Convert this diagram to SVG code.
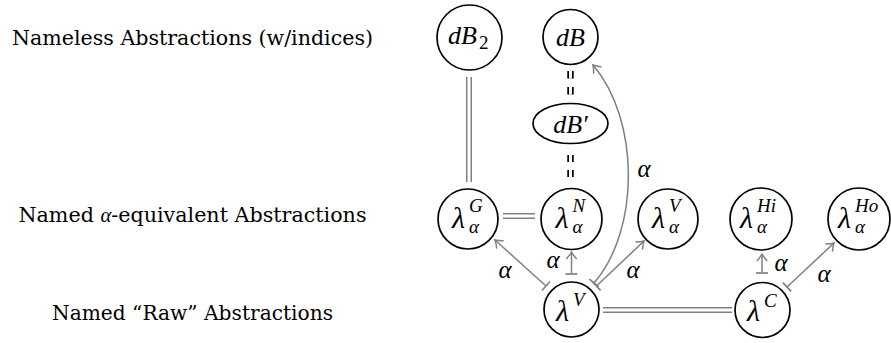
<svg xmlns="http://www.w3.org/2000/svg" width="891" height="343" viewBox="0 0 891 343">
<defs>
<style>
.node{fill:#fff;stroke:#000;stroke-width:1.7}
.lbl{font-family:"DejaVu Serif","Liberation Serif",serif;font-size:20px;fill:#000}
.m{font-family:"Liberation Serif","DejaVu Serif",serif;font-style:italic;font-size:26px;fill:#000}
.lam{font-family:"Liberation Serif","DejaVu Serif",serif;font-style:italic;font-size:30px;fill:#000}
.s{font-family:"Liberation Serif","DejaVu Serif",serif;font-style:italic;font-size:19px;fill:#000}
.up{font-style:normal}
.dbl-o{stroke:#808080;stroke-width:6;fill:none}
.dbl-i{stroke:#fff;stroke-width:3;fill:none}
.dsh-o{stroke:#000;stroke-width:6.4;fill:none}
.dsh-i{stroke:#fff;stroke-width:3;fill:none}
.arr{stroke:#808080;stroke-width:1.5;fill:none;marker-start:url(#bar);marker-end:url(#ah)}
.al{font-family:"Liberation Serif","DejaVu Serif",serif;font-style:italic;font-size:25px;fill:#000;text-anchor:middle}
</style>
<marker id="ah" markerUnits="userSpaceOnUse" markerWidth="14" markerHeight="14" refX="10" refY="7" orient="auto">
<path d="M3,1.8 Q7.5,5.8 10,7 Q7.5,8.2 3,12.2" fill="none" stroke="#808080" stroke-width="1.5"/>
</marker>
<marker id="bar" markerUnits="userSpaceOnUse" markerWidth="14" markerHeight="14" refX="2" refY="7" orient="auto">
<path d="M2,1 L2,13" fill="none" stroke="#808080" stroke-width="1.7"/>
</marker>
</defs>

<g id="row-labels">
<text class="lbl" x="192.5" y="45" text-anchor="middle" textLength="361" lengthAdjust="spacingAndGlyphs">Nameless Abstractions (w/indices)</text>
<text class="lbl" x="192.5" y="222" text-anchor="middle" textLength="348" lengthAdjust="spacingAndGlyphs">Named <tspan font-family="Liberation Serif" font-style="italic">α</tspan>-equivalent Abstractions</text>
<text class="lbl" x="192.5" y="320" text-anchor="middle" textLength="281" lengthAdjust="spacingAndGlyphs">Named “Raw” Abstractions</text>
</g>

<g id="connectors">
<line class="dbl-o" x1="469" y1="77" x2="469" y2="182"/>
<line class="dbl-i" x1="469" y1="76" x2="469" y2="183"/>
<line class="dbl-o" x1="503" y1="216" x2="535" y2="216"/>
<line class="dbl-i" x1="502" y1="216" x2="536" y2="216"/>
<line class="dbl-o" x1="603" y1="310" x2="732" y2="310"/>
<line class="dbl-i" x1="602" y1="310" x2="733" y2="310"/>
<line class="dsh-o" x1="570.5" y1="71" x2="570.5" y2="96" stroke-dasharray="7.5 8.5"/>
<line class="dsh-i" x1="570.5" y1="70" x2="570.5" y2="97" stroke-dasharray="0 1 7.5 8.5 7.5 20"/>
<line class="dsh-o" x1="570.5" y1="155" x2="570.5" y2="178" stroke-dasharray="7 8"/>
<line class="dsh-i" x1="570.5" y1="154" x2="570.5" y2="179" stroke-dasharray="0 1 7 8 7 20"/>
<line class="arr" x1="546" y1="286" x2="495" y2="240"/>
<line class="arr" x1="571.5" y1="274" x2="571.5" y2="252"/>
<path class="arr" d="M594,283 C640,230 640,120 593,65"/>
<line class="arr" x1="596.5" y1="286" x2="644" y2="241"/>
<line class="arr" x1="762" y1="273" x2="762" y2="254"/>
<line class="arr" x1="787" y1="287" x2="834" y2="243"/>
<text class="al" x="505" y="278">α</text>
<text class="al" x="553" y="268">α</text>
<text class="al" x="644" y="177">α</text>
<text class="al" x="633" y="278">α</text>
<text class="al" x="781" y="271">α</text>
<text class="al" x="824" y="282">α</text>
</g>

<g id="dB2">
<circle class="node" cx="469.5" cy="37.5" r="32.5"/>
<text class="m" x="448" y="44">dB</text>
<text class="s up" x="479" y="49">2</text>
</g>
<g id="dB">
<circle class="node" cx="570.5" cy="37" r="27.5"/>
<text class="m" x="570.5" y="45.5" text-anchor="middle">dB</text>
</g>
<g id="dBprime">
<ellipse class="node" cx="570.5" cy="123.5" rx="37.5" ry="20"/>
<text class="m" x="570.5" y="132.5" text-anchor="middle">dB′</text>
</g>
<g id="lamG">
<circle class="node" cx="468" cy="219" r="30"/>
<text class="lam" x="452" y="227.5">λ</text>
<text class="s" x="469" y="212">G</text>
<text class="s" x="469" y="233">α</text>
</g>
<g id="lamN">
<circle class="node" cx="571.5" cy="219" r="30.5"/>
<text class="lam" x="555.5" y="227.5">λ</text>
<text class="s" x="572.5" y="212">N</text>
<text class="s" x="572.5" y="233">α</text>
</g>
<g id="lamAV">
<circle class="node" cx="668" cy="219" r="30"/>
<text class="lam" x="652" y="227.5">λ</text>
<text class="s" x="669" y="212">V</text>
<text class="s" x="669" y="233">α</text>
</g>
<g id="lamHi">
<circle class="node" cx="761" cy="219" r="31"/>
<text class="lam" x="740" y="227.5">λ</text>
<text class="s" x="757" y="212">Hi</text>
<text class="s" x="757" y="233">α</text>
</g>
<g id="lamHo">
<circle class="node" cx="859" cy="219" r="31"/>
<text class="lam" x="838" y="227.5">λ</text>
<text class="s" x="855" y="212">Ho</text>
<text class="s" x="855" y="233">α</text>
</g>
<g id="lamV">
<circle class="node" cx="571.5" cy="309.5" r="27.5"/>
<text class="lam" x="556" y="320.5">λ</text>
<text class="s" x="573" y="306">V</text>
</g>
<g id="lamC">
<circle class="node" cx="762.5" cy="310" r="27.5"/>
<text class="lam" x="747" y="321">λ</text>
<text class="s" x="764" y="306.5">C</text>
</g>
</svg>
